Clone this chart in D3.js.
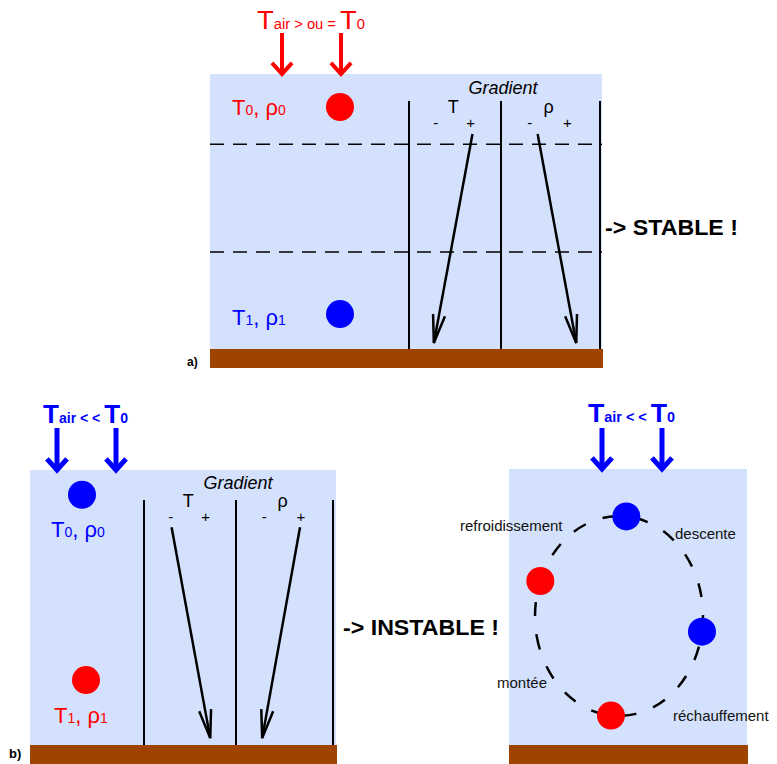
<!DOCTYPE html>
<html><head><meta charset="utf-8">
<script src="https://cdn.jsdelivr.net/npm/d3@7"></script>
<style>body{margin:0;background:#fff}</style>
</head><body><svg id="c" width="777" height="764"></svg>
<script>
// ---------- data ----------
const panelNames = ["a)", "b)"];
const verdicts = ["-> STABLE !", "-> INSTABLE !"];
const gradientTitle = "Gradient";
const gradientVars = ["T", "ρ"];
const gradientSigns = ["-", "+"];
const airRelations = [" > ou = ", " < < ", " < < "];
const airColors = ["#ff0000", "#0000ff", "#0000ff"];
// particle levels (0 = ground, 1 = surface) and labels
const stableLevels = [0.88, 0.127];
const stableLabels = [["T", "0", "ρ", "0"], ["T", "1", "ρ", "1"]];
const stableColors = ["#ff0000", "#0000ff"];
const unstableLevels = [0.91, 0.236];
const unstableColors = ["#0000ff", "#ff0000"];
// gradient profiles: position within column (0 = "-", 1 = "+") at top and bottom
const stableT = [0.69, 0.27];
const stableRho = [0.37, 0.76];
const unstableT = [0.30, 0.72];
const unstableRho = [0.66, 0.27];
// convection loop: particle angles (degrees) and colours
const loopAngles = [-85, 200.5, 9, 95.5];
const loopColors = ["#0000ff", "#ff0000", "#0000ff", "#ff0000"];
const loopLabels = ["refroidissement", "descente", "montée", "réchauffement"];

// ---------- style ----------
const BG = "#d4e1fc", GROUND = "#9e4300";
const FONT = "Liberation Sans, Arial, sans-serif";
const svg = d3.select("#c");

function arrow(g, x1, y1, x2, y2, L, angDeg, color, w) {
  const a = Math.atan2(y1 - y2, x1 - x2), d = angDeg * Math.PI / 180;
  g.append("line").attr("x1", x1).attr("y1", y1).attr("x2", x2).attr("y2", y2)
    .attr("stroke", color).attr("stroke-width", w);
  const p = [[x2 + L * Math.cos(a + d), y2 + L * Math.sin(a + d)], [x2, y2],
             [x2 + L * Math.cos(a - d), y2 + L * Math.sin(a - d)]];
  g.append("path").attr("d", d3.line()(p)).attr("fill", "none")
    .attr("stroke", color).attr("stroke-width", w).attr("stroke-linejoin", "miter");
}
function subText(g, x, y, parts, fill, opts = {}) {
  const t = g.append("text").attr("x", x).attr("y", y).attr("fill", fill)
    .attr("font-family", FONT).attr("font-weight", opts.weight || "normal");
  parts.forEach(([s, size]) => t.append("tspan").attr("font-size", size).text(s));
  if (opts.len) t.attr("textLength", opts.len).attr("lengthAdjust", "spacingAndGlyphs");
  return t;
}
function box(layout) {
  const g = svg.append("g");
  g.append("rect").attr("x", layout.x0).attr("y", layout.y0)
    .attr("width", layout.x1 - layout.x0).attr("height", layout.y1 - layout.y0).attr("fill", BG);
  g.append("rect").attr("x", layout.x0).attr("y", layout.y1)
    .attr("width", layout.x1 - layout.x0 + 1).attr("height", layout.gh).attr("fill", GROUND);
  return g;
}
function airHeader(g, lay, i) {
  subText(g, lay.tx, lay.ty, [["T", 26], ["air", 14], [airRelations[i], 14], ["T", 26], ["0", 14]],
    airColors[i], {len: lay.tlen, weight: i ? "bold" : "normal"});
  lay.arrows.forEach(ax => arrow(g, ax, lay.ay0, ax, lay.y0, 15, 42, airColors[i], i ? 5 : 4));
}
function gradient(g, lay, prof) {
  const ys = d3.scaleLinear().domain([0, 1]).range([lay.y1, lay.y0]);
  g.append("text").attr("x", lay.gx).attr("y", lay.gty).attr("text-anchor", "middle")
    .attr("font-family", FONT).attr("font-style", "italic").attr("font-size", 18).text(gradientTitle);
  lay.cols.forEach((c, k) => {
    g.append("line").attr("x1", c[0]).attr("x2", c[0]).attr("y1", lay.vtop).attr("y2", lay.y1)
      .attr("stroke", "#000").attr("stroke-width", 2);
    const xs = d3.scaleLinear().domain([0, 1]).range([c[0], c[1]]);
    g.append("text").attr("x", xs(0.48)).attr("y", lay.vy).attr("text-anchor", "middle")
      .attr("font-family", FONT).attr("font-size", 18).text(gradientVars[k]);
    gradientSigns.forEach((s, j) => g.append("text").attr("x", xs(j ? 0.67 : 0.29)).attr("y", lay.sy)
      .attr("text-anchor", "middle").attr("font-family", FONT).attr("font-size", 15).text(s));
    const p = prof[k];
    arrow(g, xs(p[0]), ys(lay.aTop), xs(p[1]), ys(lay.aBot), 29, 12, "#000", 2.5);
  });
  const last = lay.cols[lay.cols.length - 1][1];
  g.append("line").attr("x1", last).attr("x2", last).attr("y1", lay.vtop).attr("y2", lay.y1)
    .attr("stroke", "#000").attr("stroke-width", 2);
}
function partLabel(g, x, y, lb, color) {
  subText(g, x, y, [[lb[0], 22], [lb[1], 14], [", ", 22], [lb[2], 22], [lb[3], 14]], color);
}

// ---------- panel a ----------
const A = {x0: 210, x1: 602, y0: 74, y1: 349, gh: 19, tx: 257, ty: 29, tlen: 108,
  arrows: [282, 341], ay0: 33, gx: 503, gty: 94, vtop: 101, vy: 113, sy: 128,
  cols: [[409, 501], [501, 600]], aTop: 0.782, aBot: 0.022};
const ga = box(A);
[0.745, 0.353].forEach(l => {
  const y = d3.scaleLinear().domain([0, 1]).range([A.y1, A.y0])(l);
  ga.append("line").attr("x1", A.x0).attr("x2", A.x1).attr("y1", y).attr("y2", y)
    .attr("stroke", "#000").attr("stroke-width", 1.5).attr("stroke-dasharray", "14,9");
});
airHeader(ga, A, 0);
gradient(ga, A, [stableT, stableRho]);
{
  const ys = d3.scaleLinear().domain([0, 1]).range([A.y1, A.y0]);
  stableLevels.forEach((l, i) => {
    ga.append("circle").attr("cx", 340).attr("cy", ys(l)).attr("r", 14).attr("fill", stableColors[i]);
    partLabel(ga, 232, ys(l) + (i ? 11 : 8), stableLabels[i], stableColors[i]);
  });
}
svg.append("text").attr("x", 605).attr("y", 235).attr("font-family", FONT).attr("font-weight", "bold")
  .attr("font-size", 22).attr("textLength", 133).attr("lengthAdjust", "spacingAndGlyphs").text(verdicts[0]);
svg.append("text").attr("x", 187).attr("y", 366).attr("font-family", FONT).attr("font-weight", "bold")
  .attr("font-size", 12).text(panelNames[0]);

// ---------- panel b ----------
const B = {x0: 30, x1: 336, y0: 470, y1: 745, gh: 19, tx: 43, ty: 423, tlen: 85,
  arrows: [57, 116], ay0: 428, gx: 238, gty: 489, vtop: 500, vy: 507, sy: 522,
  cols: [[144, 236], [236, 333]], aTop: 0.792, aBot: 0.025};
const gb = box(B);
airHeader(gb, B, 1);
gradient(gb, B, [unstableT, unstableRho]);
{
  const ys = d3.scaleLinear().domain([0, 1]).range([B.y1, B.y0]);
  unstableLevels.forEach((l, i) => {
    gb.append("circle").attr("cx", i ? 86 : 82).attr("cy", ys(l)).attr("r", 14).attr("fill", unstableColors[i]);
    partLabel(gb, i ? 54 : 51, ys(l) + (i ? 43 : 42), stableLabels[i], unstableColors[i]);
  });
}
svg.append("text").attr("x", 343).attr("y", 635).attr("font-family", FONT).attr("font-weight", "bold")
  .attr("font-size", 22).attr("textLength", 156).attr("lengthAdjust", "spacingAndGlyphs").text(verdicts[1]);
svg.append("text").attr("x", 9).attr("y", 758).attr("font-family", FONT).attr("font-weight", "bold")
  .attr("font-size", 13).text(panelNames[1]);

// ---------- panel c ----------
const C = {x0: 509, x1: 747, y0: 469, y1: 745, gh: 19, tx: 588, ty: 422, tlen: 87,
  arrows: [602, 662], ay0: 428};
const gc = box(C);
airHeader(gc, C, 2);
{
  const cx = 619, cy = 616, rx = 84, ry = 100;
  const px = a => cx + rx * Math.cos(a * Math.PI / 180), py = a => cy + ry * Math.sin(a * Math.PI / 180);
  const s = 168.5, e = s - 180;
  gc.append("path")
    .attr("d", `M${px(s)},${py(s)} A${rx},${ry} 0 0 0 ${px(e)},${py(e)} A${rx},${ry} 0 0 0 ${px(s)},${py(s)}`)
    .attr("fill", "none").attr("stroke", "#000").attr("stroke-width", 2.5).attr("stroke-dasharray", "14,18");
  loopAngles.forEach((a, i) => gc.append("circle").attr("cx", px(a)).attr("cy", py(a)).attr("r", 14)
    .attr("fill", loopColors[i]));
  const lpos = [[460, 531], [675, 539], [497, 688], [673, 721]];
  loopLabels.forEach((t, i) => gc.append("text").attr("x", lpos[i][0]).attr("y", lpos[i][1])
    .attr("font-family", FONT).attr("font-size", 15).attr("fill", "#111").text(t));
}
</script></body></html>
